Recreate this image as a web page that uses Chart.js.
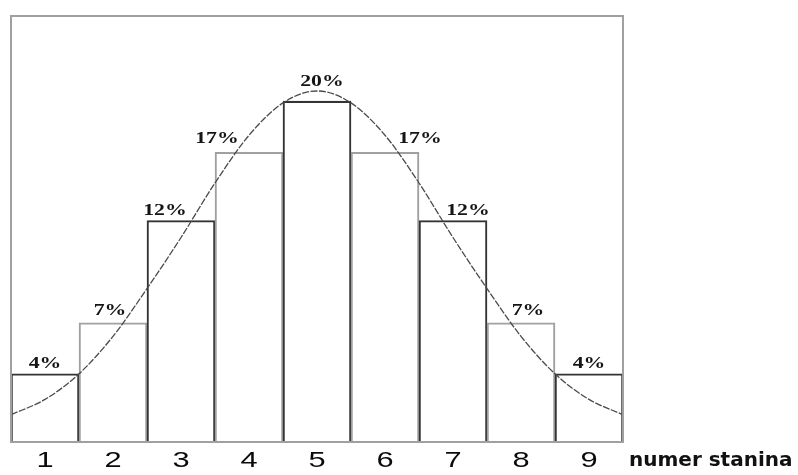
<!DOCTYPE html>
<html>
<head>
<meta charset="utf-8">
<script src="https://cdn.jsdelivr.net/npm/chart.js@4.4.1/dist/chart.umd.min.js"></script>
<style>
  html, body { margin: 0; padding: 0; background: #ffffff; }
  #wrap { width: 798px; height: 475px; position: relative; }
</style>
</head>
<body>
<div id="wrap"><canvas id="c"></canvas></div>
<script>
// ---- data ----
const stanines = [1, 2, 3, 4, 5, 6, 7, 8, 9];
const tickLabels = ['1', '2', '3', '4', '5', '6', '7', '8', '9'];
const barHeights = [4, 7, 13, 17, 20, 17, 13, 7, 4];          // drawn bar heights (%)
const percentLabels = ['4%', '7%', '12%', '17%', '20%', '17%', '12%', '7%', '4%'];
const curveX = [0.5, 1, 1.5, 2, 2.5, 3, 3.5, 4, 4.5, 5, 5.5, 6, 6.5, 7, 7.5, 8, 8.5, 9, 9.5];
const curveY = [1.6, 2.5, 4.0, 6.2, 9.0, 12.0, 15.2, 18.0, 19.9, 20.6, 19.9, 18.0, 15.2, 12.0, 9.0, 6.2, 4.0, 2.5, 1.6];
const axisTitle = 'numer stanina';

// ---- styles / layout ----
const darkEdge = '#333333';
const lightEdge = '#a0a0a0';
const barBorderColors = stanines.map((s, i) => (i % 2 === 0 ? darkEdge : lightEdge));
const labelDx = [0, -3, -16, -32, 5, 35, 15, 7, 0];
const labelGap = [6, 8, 5, 9, 15.5, 9, 5, 8, 6];

const decorPlugin = {
  id: 'decor',
  afterDatasetsDraw(chart) {
    const ctx = chart.ctx;
    const a = chart.chartArea;
    const xs = chart.scales.x;
    ctx.save();
    // frame
    ctx.strokeStyle = '#a0a0a0';
    ctx.lineWidth = 2;
    ctx.strokeRect(a.left, a.top, a.right - a.left, a.bottom - a.top);

    // percentage labels above bars
    const meta = chart.getDatasetMeta(1);
    ctx.fillStyle = '#151515';
    ctx.textAlign = 'center';
    ctx.textBaseline = 'alphabetic';
    ctx.font = 'bold 16px "Liberation Serif", "DejaVu Serif", serif';
    meta.data.forEach((el, i) => {
      ctx.save();
      ctx.translate(el.x + labelDx[i], el.y - labelGap[i]);
      ctx.scale(1.36, 1);
      ctx.fillText(percentLabels[i], 0, 0);
      ctx.restore();
    });

    // tick labels
    ctx.font = '22px "Liberation Sans", Arial, sans-serif';
    ctx.fillStyle = '#0a0a0a';
    stanines.forEach((s, i) => {
      const px = xs.getPixelForValue(s);
      ctx.save();
      ctx.translate(px, a.bottom + 25);
      ctx.scale(1.4, 1);
      ctx.fillText(tickLabels[i], 0, 0);
      ctx.restore();
    });

    // axis title
    ctx.textAlign = 'left';
    ctx.font = 'bold 20px "DejaVu Sans", sans-serif';
    ctx.fillStyle = '#111111';
    ctx.fillText(axisTitle, a.right + 6, a.bottom + 24);
    ctx.restore();
  }
};

new Chart(document.getElementById('c'), {
  type: 'bar',
  data: {
    datasets: [
      {
        type: 'line',
        label: 'krzywa',
        data: curveX.map((x, i) => ({ x: x, y: curveY[i] })),
        borderColor: '#4a4a4a',
        borderWidth: 1.3,
        borderDash: [7, 1.5],
        pointRadius: 0,
        tension: 0.4,
        cubicInterpolationMode: 'monotone',
        fill: false,
        order: 0
      },
      {
        type: 'bar',
        label: 'stanin',
        data: stanines.map((s, i) => ({ x: s, y: barHeights[i] })),
        backgroundColor: 'rgba(255,255,255,0)',
        borderColor: barBorderColors,
        borderWidth: 1.4,
        barPercentage: 1,
        categoryPercentage: 1,
        order: 1
      }
    ]
  },
  options: {
    responsive: true,
    maintainAspectRatio: false,
    animation: false,
    layout: { padding: { left: 11, top: 16, right: 175, bottom: 33 } },
    plugins: { legend: { display: false }, tooltip: { enabled: false } },
    scales: {
      x: {
        type: 'linear', min: 0.5, max: 9.5, offset: false, display: false,
        afterBuildTicks: (scale) => { scale.ticks = stanines.map(v => ({ value: v })); }
      },
      y: { min: 0, max: 25, display: false }
    }
  },
  plugins: [decorPlugin]
});
</script>
</body>
</html>
